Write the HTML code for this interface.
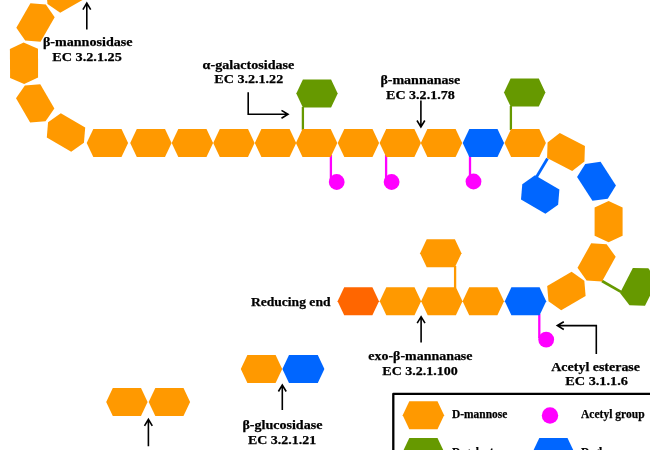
<!DOCTYPE html>
<html><head><meta charset="utf-8"><title>Mannan-degrading enzymes</title>
<style>
html,body{margin:0;padding:0;background:#fff;}
body{width:650px;height:450px;overflow:hidden;}
svg{display:block;will-change:transform;filter:blur(0.45px);}
text{font-family:"Liberation Serif","DejaVu Serif",serif;font-weight:bold;fill:#000;stroke:#000;stroke-width:0.25px;}
</style></head><body>
<svg width="650" height="450" viewBox="0 0 650 450">
<rect width="650" height="450" fill="#fff"/>
<g>
<line x1="302.90" y1="107.00" x2="302.90" y2="130.00" stroke="#669900" stroke-width="2.30"/>
<line x1="510.90" y1="106.00" x2="510.90" y2="130.00" stroke="#669900" stroke-width="2.30"/>
<line x1="330.90" y1="155.00" x2="330.90" y2="180.00" stroke="#ff00ff" stroke-width="2.30"/>
<line x1="386.10" y1="155.00" x2="386.10" y2="180.00" stroke="#ff00ff" stroke-width="2.30"/>
<line x1="470.00" y1="155.00" x2="470.00" y2="180.00" stroke="#ff00ff" stroke-width="2.30"/>
<line x1="539.30" y1="314.00" x2="539.30" y2="338.00" stroke="#ff00ff" stroke-width="2.30"/>
<line x1="547.50" y1="158.50" x2="536.50" y2="177.00" stroke="#0066ff" stroke-width="2.80"/>
<line x1="455.10" y1="266.00" x2="455.10" y2="288.00" stroke="#ff9900" stroke-width="2.30"/>
<line x1="602.00" y1="281.00" x2="621.00" y2="291.80" stroke="#669900" stroke-width="2.60"/>
<polygon points="47.47,4.05 46.19,-11.37 70.61,-25.47 83.33,-16.65 84.61,-1.23 60.19,12.87" fill="#ff9900"/>
<polygon points="25.15,40.43 16.33,27.71 30.43,3.29 45.85,4.57 54.67,17.29 40.57,41.71" fill="#ff9900"/>
<polygon points="23.6,42.6 38,48.8 38.1,77.5 24.2,84 10.1,78 9.9,49" fill="#ff9900"/>
<polygon points="24.85,85.47 40.27,84.19 54.37,108.61 45.55,121.33 30.13,122.61 16.03,98.19" fill="#ff9900"/>
<polygon points="48.07,122.15 60.79,113.33 85.21,127.43 83.93,142.85 71.21,151.67 46.79,137.57" fill="#ff9900"/>
<polygon points="86.70,142.90 93.30,128.90 121.50,128.90 128.10,142.90 121.50,156.90 93.30,156.90" fill="#ff9900"/>
<polygon points="130.20,142.90 136.80,128.90 165.00,128.90 171.60,142.90 165.00,156.90 136.80,156.90" fill="#ff9900"/>
<polygon points="171.70,142.90 178.30,128.90 206.50,128.90 213.10,142.90 206.50,156.90 178.30,156.90" fill="#ff9900"/>
<polygon points="213.20,142.90 219.80,128.90 248.00,128.90 254.60,142.90 248.00,156.90 219.80,156.90" fill="#ff9900"/>
<polygon points="254.80,142.90 261.40,128.90 289.60,128.90 296.20,142.90 289.60,156.90 261.40,156.90" fill="#ff9900"/>
<polygon points="295.90,142.90 302.50,128.90 330.70,128.90 337.30,142.90 330.70,156.90 302.50,156.90" fill="#ff9900"/>
<polygon points="337.70,142.90 344.30,128.90 372.50,128.90 379.10,142.90 372.50,156.90 344.30,156.90" fill="#ff9900"/>
<polygon points="379.60,142.90 386.20,128.90 414.40,128.90 421.00,142.90 414.40,156.90 386.20,156.90" fill="#ff9900"/>
<polygon points="420.80,142.90 427.40,128.90 455.60,128.90 462.20,142.90 455.60,156.90 427.40,156.90" fill="#ff9900"/>
<polygon points="462.70,142.90 469.30,128.90 497.50,128.90 504.10,142.90 497.50,156.90 469.30,156.90" fill="#0066ff"/>
<polygon points="504.50,142.90 511.10,128.90 539.30,128.90 545.90,142.90 539.30,156.90 511.10,156.90" fill="#ff9900"/>
<polygon points="296.30,93.60 302.90,79.60 331.10,79.60 337.70,93.60 331.10,107.60 302.90,107.60" fill="#669900"/>
<polygon points="504.00,92.60 510.60,78.60 538.80,78.60 545.40,92.60 538.80,106.60 510.60,106.60" fill="#669900"/>
<polygon points="547.56,142.60 559.79,133.12 584.92,145.93 584.44,161.40 572.21,170.88 547.08,158.07" fill="#ff9900"/>
<polygon points="585.23,163.94 600.56,161.85 615.92,185.50 607.77,198.66 592.44,200.75 577.08,177.10" fill="#0066ff"/>
<polygon points="608.60,200.90 622.60,207.50 622.60,235.70 608.60,242.30 594.60,235.70 594.60,207.50" fill="#ff9900"/>
<polygon points="586.56,280.40 577.52,267.84 591.19,243.18 606.64,244.20 615.68,256.76 602.01,281.42" fill="#ff9900"/>
<polygon points="548.47,301.35 547.19,285.93 571.61,271.83 584.33,280.65 585.61,296.07 561.19,310.17" fill="#ff9900"/>
<polygon points="629.50,305.24 620.02,293.01 632.83,267.88 648.30,268.36 657.78,280.59 644.97,305.72" fill="#669900"/>
<polygon points="522.27,184.15 534.99,175.33 559.41,189.43 558.13,204.85 545.41,213.67 520.99,199.57" fill="#0066ff"/>
<polygon points="337.60,301.20 344.20,287.20 372.40,287.20 379.00,301.20 372.40,315.20 344.20,315.20" fill="#ff6600"/>
<polygon points="379.70,301.20 386.30,287.20 414.50,287.20 421.10,301.20 414.50,315.20 386.30,315.20" fill="#ff9900"/>
<polygon points="421.10,301.20 427.70,287.20 455.90,287.20 462.50,301.20 455.90,315.20 427.70,315.20" fill="#ff9900"/>
<polygon points="462.60,301.20 469.20,287.20 497.40,287.20 504.00,301.20 497.40,315.20 469.20,315.20" fill="#ff9900"/>
<polygon points="504.80,301.20 511.40,287.20 539.60,287.20 546.20,301.20 539.60,315.20 511.40,315.20" fill="#0066ff"/>
<polygon points="420.10,253.30 426.70,239.30 454.90,239.30 461.50,253.30 454.90,267.30 426.70,267.30" fill="#ff9900"/>
<circle cx="336.70" cy="182.00" r="7.90" fill="#ff00ff"/>
<circle cx="391.60" cy="182.00" r="7.90" fill="#ff00ff"/>
<circle cx="473.50" cy="181.50" r="7.90" fill="#ff00ff"/>
<circle cx="546.20" cy="339.60" r="7.90" fill="#ff00ff"/>
<polygon points="240.80,369.10 247.40,355.10 275.60,355.10 282.20,369.10 275.60,383.10 247.40,383.10" fill="#ff9900"/>
<polygon points="282.40,369.10 289.00,355.10 317.80,355.10 324.40,369.10 317.80,383.10 289.00,383.10" fill="#0066ff"/>
<polygon points="106.20,402.00 112.80,388.00 141.00,388.00 147.60,402.00 141.00,416.00 112.80,416.00" fill="#ff9900"/>
<polygon points="148.70,402.00 155.30,388.00 183.50,388.00 190.10,402.00 183.50,416.00 155.30,416.00" fill="#ff9900"/>
<path d="M86.80 29.40 L86.80 3.10 M90.70 9.60 L86.80 3.10 L82.90 9.60" fill="none" stroke="#000" stroke-width="1.60" stroke-linejoin="miter"/>
<path d="M248.20 92.20 L248.20 114.30 L288.00 114.30 M281.50 118.20 L288.00 114.30 L281.50 110.40" fill="none" stroke="#000" stroke-width="1.60" stroke-linejoin="miter"/>
<path d="M420.90 100.60 L420.90 127.00 M417.00 120.50 L420.90 127.00 L424.80 120.50" fill="none" stroke="#000" stroke-width="1.60" stroke-linejoin="miter"/>
<path d="M421.10 342.40 L421.10 316.70 M425.00 323.20 L421.10 316.70 L417.20 323.20" fill="none" stroke="#000" stroke-width="1.60" stroke-linejoin="miter"/>
<path d="M596.30 353.90 L596.30 325.60 L557.30 325.60 M563.80 321.70 L557.30 325.60 L563.80 329.50" fill="none" stroke="#000" stroke-width="1.60" stroke-linejoin="miter"/>
<path d="M282.30 410.00 L282.30 385.00 M286.20 391.50 L282.30 385.00 L278.40 391.50" fill="none" stroke="#000" stroke-width="1.60" stroke-linejoin="miter"/>
<path d="M148.40 446.30 L148.40 419.30 M152.30 425.80 L148.40 419.30 L144.50 425.80" fill="none" stroke="#000" stroke-width="1.60" stroke-linejoin="miter"/>
<rect x="393.3" y="393.9" width="300" height="100" fill="#fff" stroke="#000" stroke-width="2.3" stroke-linejoin="round"/>
<polygon points="402.70,415.20 409.30,401.20 437.50,401.20 444.10,415.20 437.50,429.20 409.30,429.20" fill="#ff9900"/>
<polygon points="402.70,451.90 409.30,437.90 437.50,437.90 444.10,451.90 437.50,465.90 409.30,465.90" fill="#669900"/>
<polygon points="532.70,451.90 539.30,437.90 567.50,437.90 574.10,451.90 567.50,465.90 539.30,465.90" fill="#0066ff"/>
<circle cx="550.00" cy="415.50" r="8.20" fill="#ff00ff"/>
</g>
<g>
<text x="42.90" y="45.90" font-size="13.00" textLength="89.60" lengthAdjust="spacingAndGlyphs">β-mannosidase</text>
<text x="52.30" y="60.80" font-size="13.00" textLength="69.50" lengthAdjust="spacingAndGlyphs">EC 3.2.1.25</text>
<text x="202.60" y="68.70" font-size="13.00" textLength="91.70" lengthAdjust="spacingAndGlyphs">α-galactosidase</text>
<text x="214.30" y="82.90" font-size="13.00" textLength="68.90" lengthAdjust="spacingAndGlyphs">EC 3.2.1.22</text>
<text x="380.40" y="84.00" font-size="13.00" textLength="79.80" lengthAdjust="spacingAndGlyphs">β-mannanase</text>
<text x="386.00" y="98.70" font-size="13.00" textLength="68.80" lengthAdjust="spacingAndGlyphs">EC 3.2.1.78</text>
<text x="250.90" y="306.00" font-size="13.00" textLength="79.60" lengthAdjust="spacingAndGlyphs">Reducing end</text>
<text x="368.30" y="359.70" font-size="13.00" textLength="104.20" lengthAdjust="spacingAndGlyphs">exo-β-mannanase</text>
<text x="382.30" y="374.80" font-size="13.00" textLength="75.50" lengthAdjust="spacingAndGlyphs">EC 3.2.1.100</text>
<text x="551.30" y="370.70" font-size="13.00" textLength="88.70" lengthAdjust="spacingAndGlyphs">Acetyl esterase</text>
<text x="565.20" y="385.40" font-size="13.00" textLength="62.80" lengthAdjust="spacingAndGlyphs">EC 3.1.1.6</text>
<text x="242.40" y="428.50" font-size="13.00" textLength="80.00" lengthAdjust="spacingAndGlyphs">β-glucosidase</text>
<text x="248.00" y="443.50" font-size="13.00" textLength="68.20" lengthAdjust="spacingAndGlyphs">EC 3.2.1.21</text>
<text x="452.00" y="418.10" font-size="12.30" textLength="55.30" lengthAdjust="spacingAndGlyphs">D-mannose</text>
<text x="581.00" y="418.10" font-size="12.30" textLength="63.60" lengthAdjust="spacingAndGlyphs">Acetyl group</text>
<text x="452.00" y="455.50" font-size="12.30" textLength="57.00" lengthAdjust="spacingAndGlyphs">D-galactose</text>
<text x="581.00" y="455.50" font-size="12.30" textLength="48.50" lengthAdjust="spacingAndGlyphs">D-glucose</text>
</g>
</svg>
</body></html>
